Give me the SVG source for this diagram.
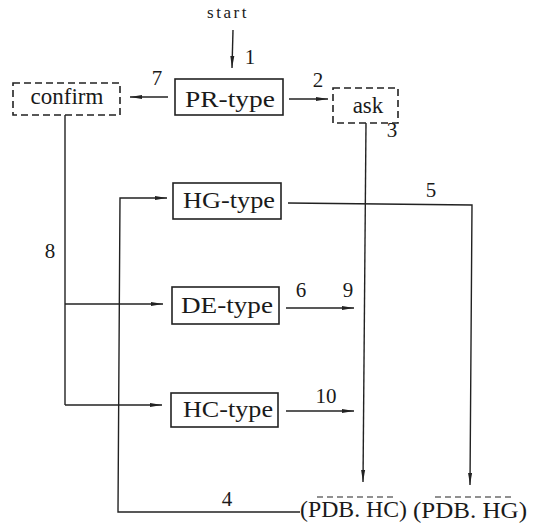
<svg xmlns="http://www.w3.org/2000/svg" width="543" height="531" viewBox="0 0 543 531" font-family="'Liberation Serif', 'DejaVu Serif', serif">
<style>
text{font-family:'Liberation Serif','DejaVu Serif',serif;fill:#1a1a1a}
.n{font-size:23px}
.lbl{font-size:21px;text-anchor:middle}
.box{fill:#fff;stroke:#222;stroke-width:1.6}
.dash{fill:#fff;stroke:#222;stroke-width:1.6;stroke-dasharray:7,4}
.ln{fill:none;stroke:#222;stroke-width:1.4}
.ar{fill:none;stroke:#222;stroke-width:1.4;marker-end:url(#ah)}
</style>
<defs>
<marker id="ah" viewBox="0 0 12 6" refX="12" refY="3" markerWidth="12" markerHeight="6" markerUnits="userSpaceOnUse" orient="auto">
<path d="M0,1 L12,3 L0,5 z" fill="#222"/>
</marker>
</defs>
<rect width="543" height="531" fill="#fff"/>
<g id="connectors">
<line class="ar" x1="233" y1="30" x2="232" y2="68"/>
<line class="ar" x1="168" y1="97" x2="130" y2="97"/>
<line class="ar" x1="289" y1="99" x2="328" y2="99"/>
<polyline class="ar" points="366,123 363,482"/>
<polyline class="ar" points="300,512 118,512 120,198 167,198"/>
<polyline class="ar" points="288,203 472,205 470,485"/>
<polyline class="ln" points="65,115 65,405"/>
<polyline class="ar" points="65,304 163,304"/>
<polyline class="ar" points="65,405 162,405"/>
<line class="ar" x1="286" y1="308" x2="354" y2="308"/>
<line class="ar" x1="286" y1="411" x2="354" y2="411"/>
<line x1="317" y1="497" x2="397" y2="497" stroke="#222" stroke-width="1.2" stroke-dasharray="6,4"/>
<line x1="435" y1="497" x2="513" y2="497" stroke="#222" stroke-width="1.2" stroke-dasharray="6,4"/>
</g>
<g id="labels">
<text x="228" y="18" font-size="17" text-anchor="middle" letter-spacing="2.5">start</text>
<text class="lbl" x="250" y="64">1</text>
<text class="lbl" x="157" y="85">7</text>
<text class="lbl" x="318" y="87">2</text>
<text class="lbl" x="392" y="137">3</text>
<text class="lbl" x="431" y="197">5</text>
<text class="lbl" x="50" y="258">8</text>
<text class="lbl" x="301" y="297">6</text>
<text class="lbl" x="348" y="297">9</text>
<text class="lbl" x="326" y="403">10</text>
<text class="lbl" x="227" y="506">4</text>
</g>
<g id="pr-type">
<rect class="box" x="175" y="79" width="108" height="36"/>
<text class="n" x="185" y="107" textLength="90" lengthAdjust="spacingAndGlyphs">PR-type</text>
</g>
<g id="confirm">
<rect class="dash" x="13" y="83" width="107" height="32"/>
<text class="n" x="67" y="104" text-anchor="middle">confirm</text>
</g>
<g id="ask">
<rect class="dash" x="333" y="88" width="65" height="35"/>
<text class="n" x="368" y="113" text-anchor="middle">ask</text>
</g>
<g id="hg-type">
<rect class="box" x="173" y="183" width="108" height="36"/>
<text class="n" x="183" y="208" textLength="92" lengthAdjust="spacingAndGlyphs">HG-type</text>
</g>
<g id="de-type">
<rect class="box" x="172" y="287" width="107" height="37"/>
<text class="n" x="181" y="313" textLength="92" lengthAdjust="spacingAndGlyphs">DE-type</text>
</g>
<g id="hc-type">
<rect class="box" x="171" y="393" width="107" height="34"/>
<text class="n" x="183" y="417" textLength="90" lengthAdjust="spacingAndGlyphs">HC-type</text>
</g>
<g id="pdb-hc">
<text class="n" x="300" y="517" textLength="107" lengthAdjust="spacingAndGlyphs">(PDB. HC)</text>
</g>
<g id="pdb-hg">
<text class="n" x="413" y="518" textLength="114" lengthAdjust="spacingAndGlyphs">(PDB. HG)</text>
</g>
</svg>
